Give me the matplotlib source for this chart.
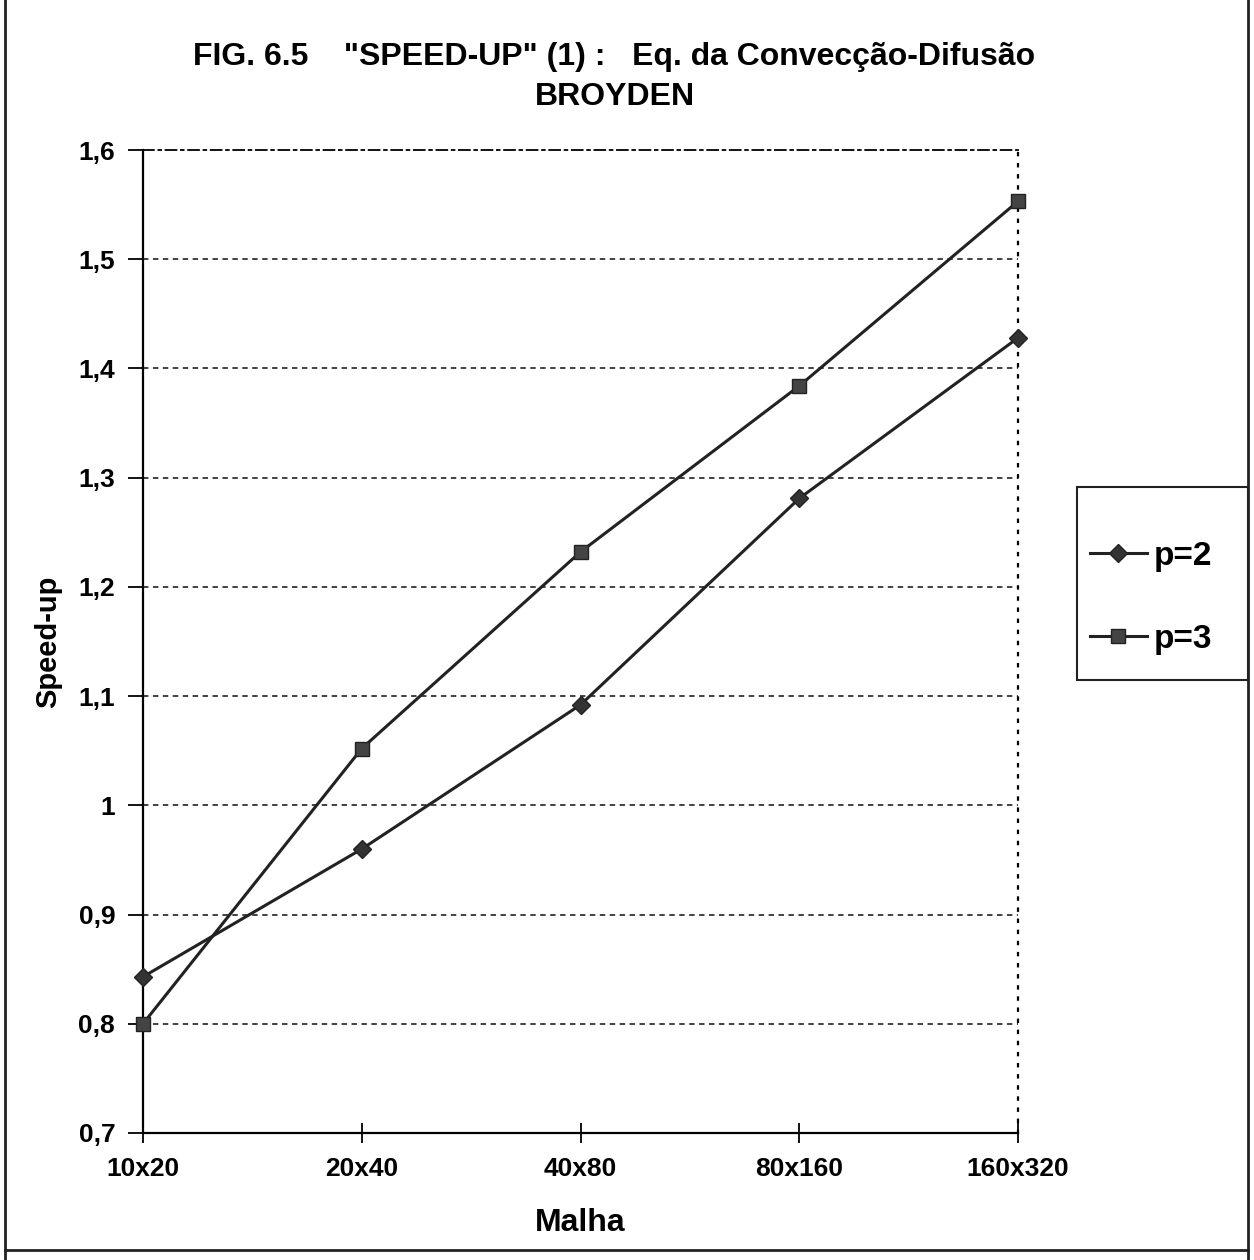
import matplotlib.pyplot as plt
from matplotlib.lines import Line2D
from matplotlib.patches import Rectangle

# dados
malhas = ["10x20", "20x40", "40x80", "80x160", "160x320"]
speedup_p2 = [0.843, 0.960, 1.092, 1.281, 1.428]
speedup_p3 = [0.800, 1.052, 1.232, 1.384, 1.553]
y_ticks = [0.7, 0.8, 0.9, 1.0, 1.1, 1.2, 1.3, 1.4, 1.5, 1.6]
y_labels = ["0,7", "0,8", "0,9", "1", "1,1", "1,2", "1,3", "1,4", "1,5", "1,6"]

plt.rcParams['font.family'] = ['Liberation Sans', 'DejaVu Sans']
plt.rcParams['font.weight'] = 'bold'

W, H = 1254, 1260
fig = plt.figure(figsize=(W / 100, H / 100), dpi=100)
ax = fig.add_axes([143 / W, 1 - 1133 / H, (1018 - 143) / W, (1133 - 150) / H])

x = list(range(len(malhas)))
cor = '#222222'

ax.plot(x, speedup_p2, color=cor, lw=2.2, marker='D', ms=9.5,
        mfc='#333333', mec='#222222', label='p=2', clip_on=False, zorder=5)
ax.plot(x, speedup_p3, color=cor, lw=2.2, marker='s', ms=10,
        mfc='#444444', mec='#222222', label='p=3', clip_on=False, zorder=5)

ax.set_xlim(0, len(malhas) - 1)
ax.set_ylim(0.7, 1.6)
ax.set_xticks(x)
ax.set_xticklabels(malhas, fontsize=19, fontweight='bold')
ax.set_yticks(y_ticks)
ax.set_yticklabels(y_labels, fontsize=19, fontweight='bold')
ax.tick_params(axis='x', direction='inout', length=14, width=1.3, pad=10)
ax.tick_params(axis='y', direction='out', length=11, width=1.3, pad=9)

# linhas de grade tracejadas
for v in y_ticks[1:-1]:
    ax.axhline(v, color='#333333', lw=1.3, ls=(0, (3, 2.5)), zorder=1)

ax.spines['left'].set_linewidth(1.6)
ax.spines['bottom'].set_linewidth(1.6)
ax.spines['top'].set_linestyle((0, (6, 2.5, 1.5, 2.5)))
ax.spines['top'].set_linewidth(1.3)
ax.spines['right'].set_linestyle((0, (1, 4)))
ax.spines['right'].set_linewidth(1.6)

ax.set_xlabel("Malha", fontsize=23, fontweight='bold', labelpad=20)
ax.set_ylabel("Speed-up", fontsize=21, fontweight='bold', labelpad=12)

fig.text(0.49, 0.955, 'FIG. 6.5    "SPEED-UP" (1) :   Eq. da Convecção-Difusão',
         ha='center', va='center', fontsize=23, fontweight='bold')
fig.text(0.49, 0.923, 'BROYDEN', ha='center', va='center',
         fontsize=23, fontweight='bold')

# legenda com moldura própria
fig.add_artist(Rectangle((1077 / W, 1 - 680 / H), 171 / W, 193 / H,
                         transform=fig.transFigure, fill=False,
                         edgecolor='#222222', lw=1.5))
leg = fig.legend(loc='upper left', bbox_to_anchor=(1090 / W, 1 - 541 / H),
                 fontsize=24, frameon=False, borderpad=0, borderaxespad=0,
                 labelspacing=1.55, handlelength=1.7, handletextpad=0.2)
for t in leg.get_texts():
    t.set_fontweight('bold')

# moldura externa
for xs, ys in [([0.004, 0.004], [0.0, 1.0]),
               ([0.995, 0.995], [0.0, 1.0]),
               ([0.004, 0.995], [0.008, 0.008])]:
    fig.add_artist(Line2D(xs, ys, transform=fig.transFigure,
                          color='#222222', lw=2.0))

fig.savefig('out.png', dpi=100, facecolor='white')
